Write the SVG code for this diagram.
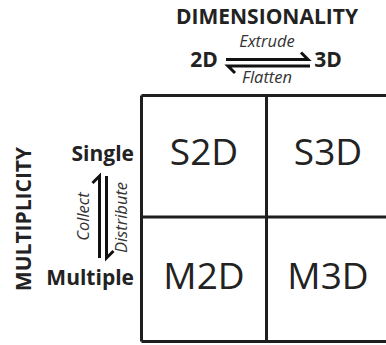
<svg xmlns="http://www.w3.org/2000/svg" width="386" height="345" viewBox="0 0 386 345">
<style>
.t{font-family:"Open Sans","DejaVu Sans",sans-serif;fill:#222}
.b{font-weight:bold;font-size:21px}
.i{font-style:italic;font-size:16.5px;fill:#333}
.cell{font-size:37px;text-anchor:middle}
.ln{stroke:#1e1e1e;stroke-width:3;fill:none}
.ar{stroke:#111;stroke-width:3;fill:none;stroke-linecap:butt;stroke-linejoin:miter}
</style>
<rect width="386" height="345" fill="#fff"/>
<g id="grid">
<path class="ln" d="M141.5,95.5 H392 M141.5,217 H392 M141.5,341.5 H392 M141.5,95.5 V341.5 M266.5,95.5 V341.5"/>
</g>
<g id="S2D"><text class="t cell" x="204" y="165">S2D</text></g>
<g id="S3D"><text class="t cell" x="328" y="165">S3D</text></g>
<g id="M2D"><text class="t cell" x="204" y="289">M2D</text></g>
<g id="M3D"><text class="t cell" x="328" y="289">M3D</text></g>
<g id="dimensionality">
<text class="t b" x="267" y="24" text-anchor="middle">DIMENSIONALITY</text>
<text class="t b" x="204" y="67" text-anchor="middle">2D</text>
<text class="t b" x="328" y="67" text-anchor="middle">3D</text>
<text class="t i" x="267" y="47" text-anchor="middle">Extrude</text>
<text class="t i" x="267" y="83" text-anchor="middle">Flatten</text>
</g>
<g id="multiplicity">
<text class="t b" transform="translate(31,219) rotate(-90)" text-anchor="middle">MULTIPLICITY</text>
<text class="t b" x="134" y="161" text-anchor="end">Single</text>
<text class="t b" x="134" y="285" text-anchor="end">Multiple</text>
<text class="t i" transform="translate(89,216.5) rotate(-90)" text-anchor="middle">Collect</text>
<text class="t i" transform="translate(127,217.5) rotate(-90)" text-anchor="middle">Distribute</text>
</g>
<g id="connectors">
<path class="ar" d="M226,59.5 H308 L301,52.5"/>
<path class="ar" d="M310,66 H228 L235,73"/>
<path class="ar" d="M99.5,258 V176 L92.5,183"/>
<path class="ar" d="M106.5,176 V258 L113.5,251"/>
</g>
</svg>
